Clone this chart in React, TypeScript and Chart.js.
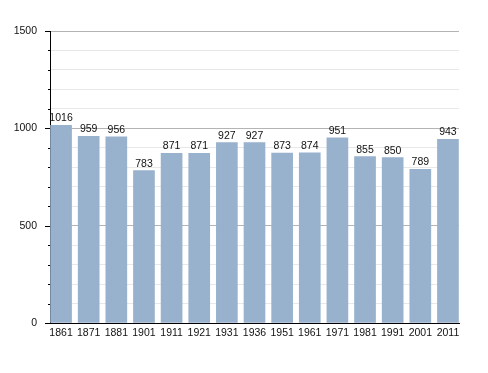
import React, { useEffect, useRef } from "react";
import { Chart, registerables } from "chart.js";

Chart.register(...registerables);

const years = ["1861", "1871", "1881", "1901", "1911", "1921", "1931", "1936", "1951", "1961", "1971", "1981", "1991", "2001", "2011"];
const population = [1016, 959, 956, 783, 871, 871, 927, 927, 873, 874, 951, 855, 850, 789, 943];
const yTickLabels = [0, 500, 1000, 1500];

const FONT = "'Liberation Sans', Arial, sans-serif";

const valueLabels = {
  id: "valueLabels",
  afterDatasetsDraw(chart: any) {
    const ctx = chart.ctx;
    const meta = chart.getDatasetMeta(0);
    ctx.save();
    ctx.font = `10.5px ${FONT}`;
    ctx.fillStyle = "#111";
    ctx.textAlign = "center";
    ctx.textBaseline = "alphabetic";
    meta.data.forEach((bar: any, i: number) => {
      ctx.fillText(String(population[i]), bar.x, bar.y - 4);
    });
    ctx.restore();
  },
};

const axisTicks = {
  id: "axisTicks",
  afterDraw(chart: any) {
    const ctx = chart.ctx;
    const y = chart.scales.y;
    const left = chart.chartArea.left;
    ctx.save();
    ctx.strokeStyle = "#000";
    ctx.lineWidth = 1;
    for (let v = 0; v <= 1500; v += 100) {
      const py = Math.round(y.getPixelForValue(v)) + 0.5;
      const len = yTickLabels.includes(v) ? 5 : 2;
      ctx.beginPath();
      ctx.moveTo(left - len, py);
      ctx.lineTo(left, py);
      ctx.stroke();
    }
    ctx.restore();
  },
};

export default function App() {
  const ref = useRef<HTMLCanvasElement>(null);
  useEffect(() => {
    if (!ref.current) return;
    const chart = new Chart(ref.current, {
      type: "bar",
      data: {
        datasets: [
          {
            data: population.map((v, i) => ({ x: i, y: v })),
            backgroundColor: "#98b1cc",
            borderWidth: 0,
            barThickness: 21,
          },
        ],
      },
      options: {
        responsive: false,
        animation: false,
        maintainAspectRatio: false,
        layout: { padding: { left: 0, top: 31, right: 29, bottom: 0 } },
        plugins: { legend: { display: false }, tooltip: { enabled: false } },
        scales: {
          x: {
            type: "linear",
            offset: false,
            min: -0.4,
            max: 14.4,
            afterBuildTicks: (scale: any) => {
              scale.ticks = years.map((_, i) => ({ value: i }));
            },
            afterFit: (scale: any) => {
              scale.height = 50;
            },
            grid: { display: false, drawTicks: false, offset: false },
            border: { display: true, color: "#000", width: 1 },
            ticks: {
              callback: (v: any) => years[v] ?? "",
              font: { family: FONT, size: 10.5 },
              color: "#111",
              padding: 4,
              maxRotation: 0,
              autoSkip: false,
            },
          },
          y: {
            min: 0,
            max: 1500,
            afterBuildTicks: (scale: any) => {
              const t = [];
              for (let v = 0; v <= 1500; v += 100) t.push({ value: v });
              scale.ticks = t;
            },
            afterFit: (scale: any) => {
              scale.width = 50;
            },
            grid: {
              drawTicks: false,
              color: (c: any) =>
                c.tick && yTickLabels.includes(c.tick.value) ? "#b4b4b4" : "#e8e8e8",
            },
            border: { display: true, color: "#000", width: 1 },
            ticks: {
              callback: (v: any) => (yTickLabels.includes(v) ? String(v) : ""),
              font: { family: FONT, size: 10.5 },
              color: "#111",
              padding: 13,
              autoSkip: false,
            },
          },
        },
      },
      plugins: [valueLabels, axisTicks],
    });
    return () => chart.destroy();
  }, []);
  return (
    <div style={{ position: "fixed", left: 0, top: 0, width: 488, height: 373, background: "#fff" }}>
      <canvas ref={ref} width={488} height={373} style={{ width: 488, height: 373 }} />
    </div>
  );
}
